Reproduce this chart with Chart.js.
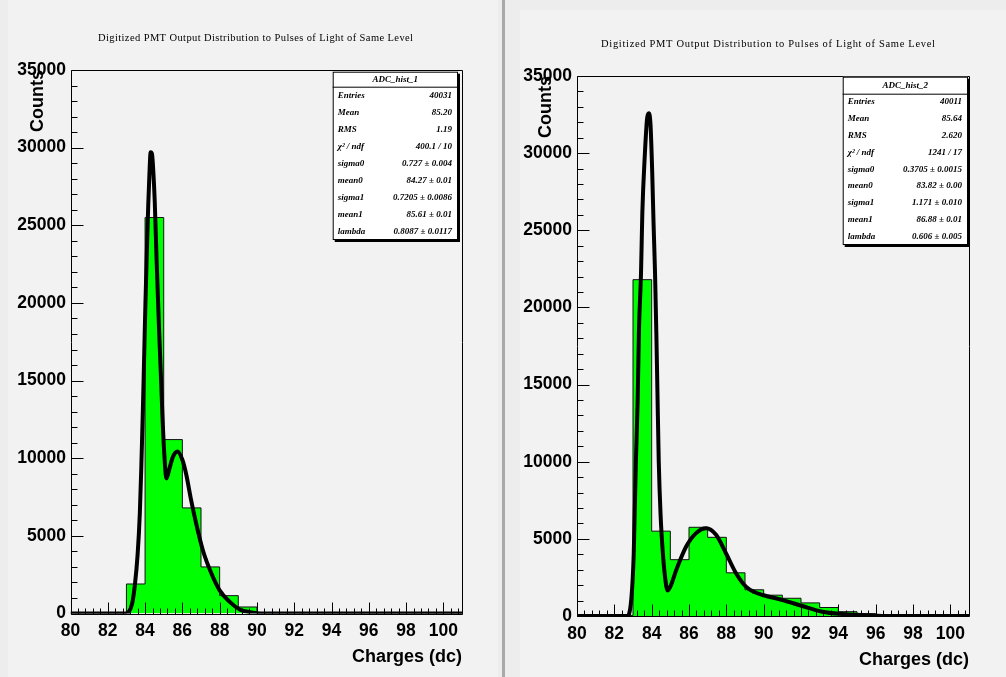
<!DOCTYPE html>
<html>
<head>
<meta charset="utf-8">
<script src="https://cdn.jsdelivr.net/npm/chart.js@4.4.1/dist/chart.umd.min.js"></script>
<style>
  html, body { margin: 0; padding: 0; width: 1006px; height: 677px; overflow: hidden; background: #ededed; }
  .panel { position: absolute; background: #f2f2f2; }
  #sep { position: absolute; left: 502px; top: 0; width: 3px; height: 677px; background: #a9a9a9; }
  canvas { position: absolute; top: 0; }
</style>
</head>
<body>
<div class="panel" style="left:8px;top:0;width:490px;height:677px"></div>
<div id="sep"></div>
<div class="panel" style="left:520px;top:10px;width:486px;height:667px"></div>
<canvas id="histA" width="495" height="677" style="left:8px"></canvas>
<canvas id="histB" width="496" height="677" style="left:520px"></canvas>
<script>
// ---- shared axis setup -------------------------------------------------
const chartTitle = 'Digitized PMT Output Distribution to Pulses of Light of Same Level';
const xTicks = [80, 82, 84, 86, 88, 90, 92, 94, 96, 98, 100];
const yTicks = [0, 5000, 10000, 15000, 20000, 25000, 30000, 35000];
const xRange = [80, 101];
const yRange = [0, 35000];
// 1-unit bins, lower edges 80 .. 100, upper edge 101
const binEdges = [80, 81, 82, 83, 84, 85, 86, 87, 88, 89, 90, 91, 92, 93, 94, 95, 96, 97, 98, 99, 100, 101];

// ---- ADC_hist_1 ----------------------------------------------------------
const countsA = [0, 0, 0, 1900, 25500, 11200, 6800, 3000, 1150, 420, 0, 0, 0, 0, 0, 0, 0, 0, 0, 0, 0];
const fitXA = [80, 83.0, 83.1, 83.3, 83.45, 83.6, 83.72, 83.8, 83.88, 83.95, 84.02, 84.1, 84.17, 84.23, 84.3, 84.37,
               84.45, 84.52, 84.62, 84.75, 84.86, 84.93, 85.02, 85.15, 85.3, 85.5, 85.74, 86.0, 86.2, 86.47,
               86.74, 87.1, 87.56, 88.0, 88.56, 89.1, 89.65, 90.2, 101];
const fitYA = [0, 0, 60, 600, 1800, 3800, 6500, 9500, 13000, 16500, 20000, 23500, 26300, 28200, 29700, 29600,
               28300, 26500, 22700, 18300, 15000, 12800, 10500, 8700, 9300, 10100, 10430, 9900, 9000, 7300,
               5800, 4075, 2570, 1490, 730, 240, 85, 0, 0];
const statsTitleA = 'ADC_hist_1';
const statsLabelsA = ['Entries', 'Mean', 'RMS', 'χ² / ndf', 'sigma0', 'mean0', 'sigma1', 'mean1', 'lambda'];
const statsValuesA = ['40031', '85.20', '1.19', '400.1 / 10', '0.727 ± 0.004', '84.27 ± 0.01',
                      '0.7205 ± 0.0086', '85.61 ± 0.01', '0.8087 ± 0.0117'];

// ---- ADC_hist_2 ----------------------------------------------------------
const countsB = [0, 0, 40, 21800, 5500, 3650, 5750, 5100, 2800, 1700, 1350, 1150, 850, 550, 280, 150, 60, 0, 0, 0, 0];
const fitXB = [80, 82.7, 82.92, 83.04, 83.15, 83.25, 83.32, 83.43, 83.5, 83.63, 83.76, 83.85, 83.94, 84.03, 84.1,
               84.18, 84.25, 84.31, 84.38, 84.48, 84.6, 84.72, 84.85, 85.0, 85.32, 85.85, 86.38, 86.92, 87.45,
               87.98, 88.52, 89.05, 89.5, 89.94, 91.0, 92.07, 93.14, 94.2, 95.6, 96.5, 101];
const fitYB = [0, 0, 1250, 4070, 9800, 14000, 18560, 22240, 26130, 29810, 32300, 32580, 31800, 28730, 25490,
               22260, 18370, 14470, 10000, 6500, 4070, 2500, 1650, 1900, 2990, 4500, 5370, 5690, 5260,
               4070, 2770, 1900, 1550, 1360, 1040, 650, 280, 130, 45, 0, 0];
const statsTitleB = 'ADC_hist_2';
const statsLabelsB = ['Entries', 'Mean', 'RMS', 'χ² / ndf', 'sigma0', 'mean0', 'sigma1', 'mean1', 'lambda'];
const statsValuesB = ['40011', '85.64', '2.620', '1241 / 17', '0.3705 ± 0.0015', '83.82 ± 0.00',
                      '1.171 ± 0.010', '86.88 ± 0.01', '0.606 ± 0.005'];

// ---- ROOT-style frame, inward ticks, title and statistics box -------------
const rootFrame = {
  id: 'rootFrame',
  afterDatasetsDraw(chart) {
    const { ctx, chartArea: a, scales: { x, y } } = chart;
    ctx.save();
    ctx.strokeStyle = '#000';
    ctx.lineWidth = 1;
    ctx.beginPath();
    const L = Math.round(a.left) + 0.5, R = Math.round(a.right) + 0.5;
    const T = Math.round(a.top) + 0.5, B = Math.round(a.bottom) + 0.5;
    ctx.rect(L, T, R - L, B - T);
    // y axis: major every 5000, four minors between
    for (let i = 0; i < yTicks.length; i++) {
      const py = Math.round(y.getPixelForValue(yTicks[i])) + 0.5;
      ctx.moveTo(L, py); ctx.lineTo(L + 12, py);
      if (i < yTicks.length - 1) {
        const step = (yTicks[i + 1] - yTicks[i]) / 5;
        for (let k = 1; k < 5; k++) {
          const my = Math.round(y.getPixelForValue(yTicks[i] + k * step)) + 0.5;
          ctx.moveTo(L, my); ctx.lineTo(L + 6, my);
        }
      }
    }
    // x axis: major every 2, four minors between (continuing past 100)
    for (let i = 0; i < xTicks.length; i++) {
      const px = Math.round(x.getPixelForValue(xTicks[i])) + 0.5;
      ctx.moveTo(px, B); ctx.lineTo(px, B - 12);
      const step = 0.4;
      for (let k = 1; k < 5; k++) {
        const v = xTicks[i] + k * step;
        if (v >= xRange[1]) break;
        const mx = Math.round(x.getPixelForValue(v)) + 0.5;
        ctx.moveTo(mx, B); ctx.lineTo(mx, B - 6);
      }
    }
    ctx.stroke();
    ctx.restore();
  },
  afterDraw(chart, args, opts) {
    if (!opts) return;
    const { ctx } = chart;
    ctx.save();
    // pad title, stretched to its full printed width
    if (opts.heading) {
      const h = opts.heading;
      ctx.font = '10.5px "Liberation Serif"';
      ctx.fillStyle = '#000';
      ctx.textBaseline = 'middle';
      ctx.textAlign = 'left';
      const natural = ctx.measureText(chartTitle).width;
      const gap = (h.width - natural) / (chartTitle.length - 1);
      if ('letterSpacing' in ctx) {
        ctx.letterSpacing = gap + 'px';
        ctx.fillText(chartTitle, h.cx - h.width / 2, h.cy);
        ctx.letterSpacing = '0px';
      } else {
        ctx.fillText(chartTitle, h.cx - natural / 2, h.cy);
      }
    }
    if (opts.box) {
      const b = opts.box;
      ctx.fillStyle = '#000';
      ctx.fillRect(b.x + 2, b.y + 2, b.w, b.h);
      ctx.fillStyle = '#ffffff';
      ctx.fillRect(b.x, b.y, b.w, b.h);
      ctx.strokeStyle = '#000';
      ctx.lineWidth = 1;
      ctx.strokeRect(b.x + 0.5, b.y + 0.5, b.w - 1, b.h - 1);
      ctx.beginPath();
      ctx.moveTo(b.x, b.y + b.titleH + 0.5);
      ctx.lineTo(b.x + b.w, b.y + b.titleH + 0.5);
      ctx.stroke();
      ctx.fillStyle = '#000';
      ctx.font = 'italic bold 9px "Liberation Serif"';
      ctx.textBaseline = 'middle';
      ctx.textAlign = 'center';
      ctx.fillText(opts.title, b.x + b.w / 2, b.y + b.titleH / 2 + 0.5);
      const rowH = (b.h - b.titleH) / opts.labels.length;
      for (let i = 0; i < opts.labels.length; i++) {
        const cy = b.y + b.titleH + (i + 0.5) * rowH;
        ctx.textAlign = 'left';
        ctx.fillText(opts.labels[i], b.x + 5, cy);
        ctx.textAlign = 'right';
        ctx.fillText(opts.values[i], b.x + b.w - 6, cy);
      }
    }
    ctx.restore();
  }
};

const axisFont = { family: 'Liberation Sans', size: 17.5, weight: 'bold' };
const titleFont = { family: 'Liberation Sans', size: 18, weight: 'bold' };

function makeChart(id, counts, fitX, fitY, lay) {
  const histPoints = binEdges.map((e, i) => ({ x: e, y: counts[Math.max(i - 1, 0)] }));
  const fitPoints = fitX.map((v, i) => ({ x: v, y: fitY[i] }));
  return new Chart(document.getElementById(id), {
    type: 'line',
    data: {
      datasets: [
        {
          label: 'histogram',
          data: histPoints,
          order: 2,
          stepped: 'after',
          fill: 'origin',
          backgroundColor: '#00ff00',
          borderColor: '#111111',
          borderWidth: 1,
          pointRadius: 0
        },
        {
          label: 'fit',
          data: fitPoints,
          order: 1,
          borderColor: '#000000',
          borderWidth: 4,
          pointRadius: 0,
          fill: false,
          cubicInterpolationMode: 'monotone'
        }
      ]
    },
    options: {
      responsive: false,
      animation: false,
      events: [],
      layout: { padding: { left: 0, right: lay.padR, top: lay.top, bottom: 0 } },
      plugins: {
        legend: { display: false },
        tooltip: { enabled: false },
        title: { display: false },
        rootFrame: { heading: lay.heading, box: lay.box, title: lay.statsTitle, labels: lay.statsLabels, values: lay.statsValues }
      },
      scales: {
        x: {
          type: 'linear',
          min: xRange[0],
          max: xRange[1],
          afterBuildTicks: s => { s.ticks = xTicks.map(v => ({ value: v })); },
          afterFit: s => { s.height = lay.xH; },
          grid: { display: false, drawTicks: false },
          border: { display: false },
          ticks: {
            autoSkip: false, maxRotation: 0, minRotation: 0,
            padding: lay.xPad, color: '#000', font: axisFont,
            callback: v => String(v)
          },
          title: {
            display: true, text: 'Charges (dc)', align: 'end', color: '#000', font: titleFont,
            padding: { top: 0, bottom: lay.xTitlePad }
          }
        },
        y: {
          type: 'linear',
          min: yRange[0],
          max: yRange[1],
          afterBuildTicks: s => { s.ticks = yTicks.map(v => ({ value: v })); },
          afterFit: s => { s.width = lay.yW; },
          grid: { display: false, drawTicks: false },
          border: { display: false },
          ticks: { padding: lay.yPad, color: '#000', font: axisFont, callback: v => String(v) },
          title: {
            display: true, text: 'Counts', align: 'end', color: '#000', font: titleFont,
            padding: { top: lay.yTitlePad, bottom: 0 }
          }
        }
      }
    },
    plugins: [rootFrame]
  });
}

makeChart('histA', countsA, fitXA, fitYA, {
  padR: 41, top: 70, yW: 62.5, xH: 63.5, xPad: 7.0, yPad: 4.5, xTitlePad: 9.2, yTitlePad: 19.2,
  heading: { cx: 247.5, cy: 38, width: 315 },
  box: { x: 324.7, y: 71.7, w: 125.3, h: 168.3, titleH: 15 },
  statsTitle: statsTitleA, statsLabels: statsLabelsA, statsValues: statsValuesA
});

makeChart('histB', countsB, fitXB, fitYB, {
  padR: 47, top: 76, yW: 57, xH: 61, xPad: 7.5, yPad: 5, xTitlePad: 6.2, yTitlePad: 15.2,
  heading: { cx: 248, cy: 44, width: 334 },
  box: { x: 322.7, y: 76.7, w: 125.3, h: 168.3, titleH: 17 },
  statsTitle: statsTitleB, statsLabels: statsLabelsB, statsValues: statsValuesB
});
</script>
</body>
</html>
